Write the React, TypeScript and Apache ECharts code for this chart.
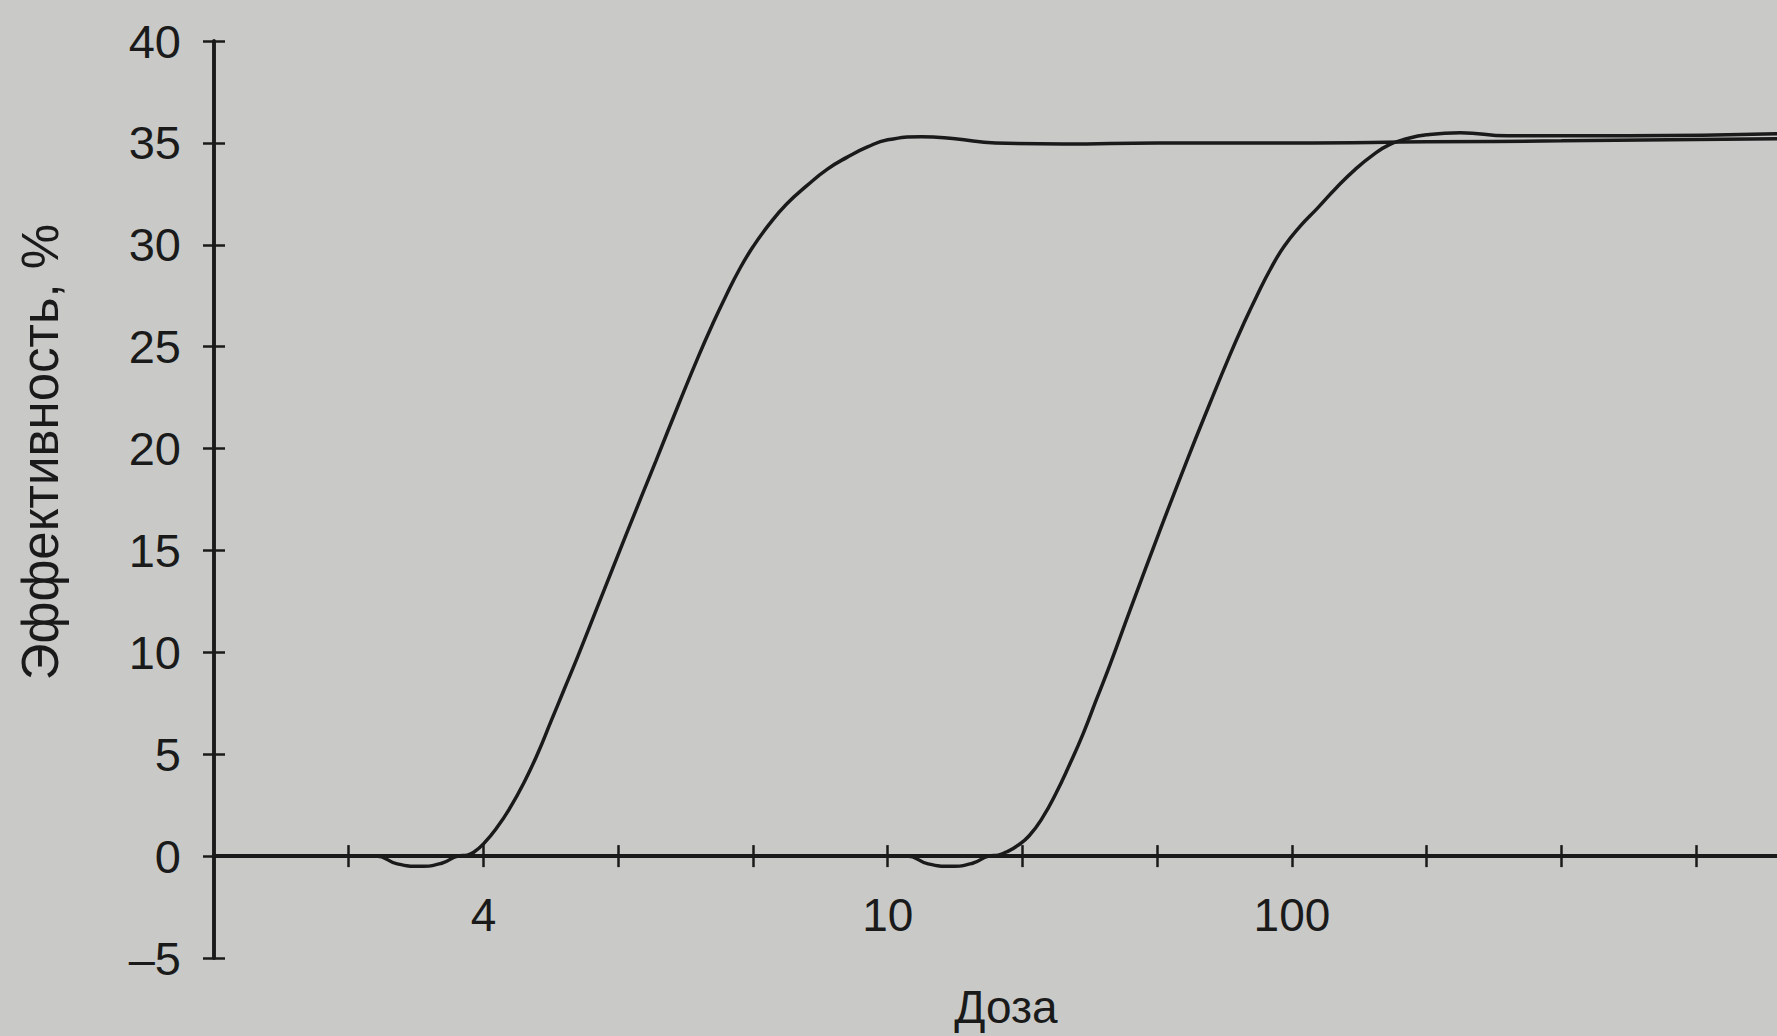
import React, { useEffect, useRef } from "react";
import * as echarts from "echarts";

// Dose axis: evenly spaced ticks, only three of them are labelled
const xTickLabels: string[] = ["", "", "4", "", "", "10", "", "", "100", "", "", ""];
const xTickPositions: number[] = [1, 2, 3, 4, 5, 6, 7, 8, 9, 10, 11];
const xLabelPositions: number[] = [2, 5, 8];
const yTicks: number[] = [-5, 0, 5, 10, 15, 20, 25, 30, 35, 40];

// Curve 1 (left dose–response curve): [tick position, effectiveness %]
const curve1X: number[] = [0, 1.2, 1.36, 1.53, 1.69, 1.81, 1.88, 1.93, 2.0, 2.1, 2.2, 2.3, 2.4, 2.5, 2.6, 2.7, 2.85, 3.06, 3.28, 3.45, 3.6, 3.7, 3.8, 3.9, 4.0, 4.12, 4.25, 4.4, 4.55, 4.7, 4.85, 5.0, 5.25, 5.5, 5.8, 6.3, 7, 8, 9, 10, 11.6];
const curve1Y: number[] = [0, 0, -0.38, -0.5, -0.35, 0, 0.05, 0.2, 0.6, 1.4, 2.4, 3.6, 5.0, 6.6, 8.2, 9.8, 12.3, 15.8, 19.4, 22.2, 24.6, 26.1, 27.5, 28.8, 29.9, 31.0, 32.0, 32.9, 33.7, 34.3, 34.8, 35.15, 35.3, 35.2, 35.0, 34.95, 35.0, 35.0, 35.05, 35.1, 35.2];

// Curve 2 (right dose–response curve)
const curve2X: number[] = [0, 5.14, 5.3, 5.47, 5.63, 5.75, 5.82, 5.88, 5.96, 6.05, 6.15, 6.25, 6.35, 6.45, 6.55, 6.65, 6.8, 7.01, 7.22, 7.39, 7.54, 7.64, 7.74, 7.84, 7.94, 8.06, 8.19, 8.33, 8.47, 8.6, 8.72, 8.85, 9.0, 9.25, 9.6, 10.5, 11.6];
const curve2Y: number[] = [0, 0, -0.38, -0.5, -0.35, 0, 0.05, 0.2, 0.5, 1.0, 1.9, 3.1, 4.5, 6.0, 7.7, 9.4, 12.1, 15.8, 19.4, 22.2, 24.6, 26.1, 27.5, 28.8, 29.9, 30.9, 31.8, 32.8, 33.7, 34.4, 34.9, 35.2, 35.4, 35.5, 35.35, 35.35, 35.45];

const yAxisTitle = "Эффективность, %";
const xAxisTitle = "Доза";

const INK = "#1a1a1a";
const PAPER = "#c9cac8";
const FONT = "'Liberation Sans', Arial, Helvetica, sans-serif";

export default function App() {
  const ref = useRef<HTMLDivElement>(null);

  useEffect(() => {
    document.body.style.margin = "0";
    document.body.style.background = PAPER;
    if (!ref.current) return;
    const chart = echarts.init(ref.current, undefined, { renderer: "svg" });

    const pairs = (xs: number[], ys: number[]) => xs.map((x, i) => [x, ys[i]]);

    const xBase = {
      type: "value" as const,
      position: "bottom" as const,
      min: 0,
      max: 11.6,
      interval: 1,
      splitLine: { show: false },
      axisLine: { onZero: true, onZeroAxisIndex: 0, lineStyle: { color: INK, width: 4 } },
    };
    const yBase = {
      type: "value" as const,
      position: "left" as const,
      min: yTicks[0],
      max: yTicks[yTicks.length - 1],
      interval: 5,
      splitLine: { show: false },
    };

    chart.setOption({
      animation: false,
      backgroundColor: PAPER,
      textStyle: { fontFamily: FONT },
      grid: { left: 214, right: 0, top: 41, bottom: 78, containLabel: false },
      xAxis: [
        {
          ...xBase,
          axisTick: {
            show: true,
            length: 11,
            customValues: xTickPositions,
            lineStyle: { color: INK, width: 2.5 },
          },
          axisLabel: {
            margin: -66,
            color: INK,
            fontSize: 46,
            fontFamily: FONT,
            customValues: xLabelPositions,
            formatter: (v: number) => (Number.isInteger(v) ? xTickLabels[v] ?? "" : ""),
          },
        },
        {
          ...xBase,
          axisTick: {
            show: true,
            inside: true,
            length: 11,
            customValues: xTickPositions,
            lineStyle: { color: INK, width: 2.5 },
          },
          axisLabel: { show: false },
        },
      ],
      yAxis: [
        {
          ...yBase,
          axisLine: { onZero: false, lineStyle: { color: INK, width: 3.5 } },
          axisTick: { show: true, length: 11, lineStyle: { color: INK, width: 2.5 } },
          axisLabel: {
            margin: 33,
            color: INK,
            fontSize: 47,
            fontFamily: FONT,
            formatter: (v: number) => (v < 0 ? "\u2013" + Math.abs(v) : String(v)),
          },
        },
        {
          ...yBase,
          axisLine: { show: true, onZero: false, lineStyle: { color: INK, width: 3.5 } },
          axisTick: { show: true, inside: true, length: 11, lineStyle: { color: INK, width: 2.5 } },
          axisLabel: { show: false },
        },
      ],
      graphic: [
        {
          type: "text",
          x: 40,
          y: 452,
          rotation: Math.PI / 2,
          style: {
            text: yAxisTitle,
            fill: INK,
            font: `51px ${FONT}`,
            textAlign: "center",
            textVerticalAlign: "middle",
          },
        },
        {
          type: "text",
          x: 1006,
          y: 1007,
          style: {
            text: xAxisTitle,
            fill: INK,
            font: `46px ${FONT}`,
            textAlign: "center",
            textVerticalAlign: "middle",
          },
        },
      ],
      series: [
        {
          type: "line",
          xAxisIndex: 0,
          yAxisIndex: 0,
          data: pairs(curve1X, curve1Y),
          smooth: 0.5,
          showSymbol: false,
          lineStyle: { color: INK, width: 3.5 },
        },
        {
          type: "line",
          xAxisIndex: 0,
          yAxisIndex: 0,
          data: pairs(curve2X, curve2Y),
          smooth: 0.5,
          showSymbol: false,
          lineStyle: { color: INK, width: 3.5 },
        },
      ],
    });

    return () => chart.dispose();
  }, []);

  return (
    <div
      ref={ref}
      style={{ position: "fixed", left: 0, top: 0, width: 1777, height: 1036 }}
    />
  );
}
